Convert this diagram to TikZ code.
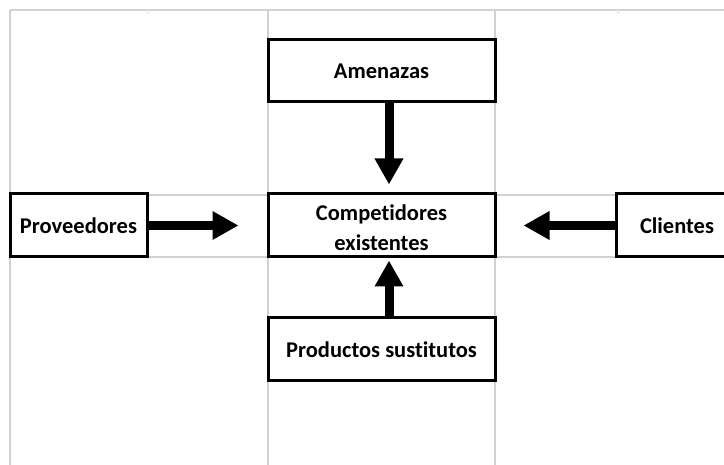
\documentclass[tikz,border=0pt]{standalone}
\usepackage{fontspec}
\setmainfont{Carlito}[RawFeature=-liga]
\usetikzlibrary{arrows.meta,calc}
\begin{document}
\begin{tikzpicture}[x=1pt,y=-1pt,
  box/.style={draw=black, line width=3pt, fill=white, inner sep=0pt,
    font=\fontsize{22.5}{30}\selectfont\bfseries, align=center},
  gridline/.style={draw=black!18, line width=1.3pt},
  bigarrow/.style={line width=9pt, -{Triangle[width=27pt,length=26pt]}}]
\useasboundingbox (0,0) rectangle (724,465);
\clip (0,0) rectangle (724,465);
\fill[white] (0,0) rectangle (724,465);
% spreadsheet grid lines
\draw[gridline] (10,10) -- (724,10);
\draw[gridline] (10,10) -- (10,465);
\draw[gridline] (268,10) -- (268,465);
\draw[gridline] (495,10) -- (495,465);
\draw[gridline] (10,195) -- (724,195);
\draw[gridline] (10,257) -- (724,257);
\draw[gridline, draw=black!8] (148,10) -- (148,14);
\draw[gridline, draw=black!8] (618,10) -- (618,14);
% boxes
\node[box, minimum width=227pt, minimum height=62pt] (amen) at (381.5,71) {Amenazas};
\node[box, minimum width=227pt, minimum height=63pt] (comp) at (381.5,225.5)
  {\raisebox{-4pt}[\height][\depth]{\begin{tabular}{@{}c@{}}Competidores\\existentes\end{tabular}}};
\node[box, minimum width=137pt, minimum height=63pt] (prov) at (78.5,225.5) {Proveedores};
\node[box, minimum width=122pt, minimum height=63pt] (cli) at (677,225.5) {Clientes};
\node[box, minimum width=227pt, minimum height=63pt] (prod) at (381.5,349.5) {Productos sustitutos};
% arrows
\draw[bigarrow] ($(amen.south)+(7.5,0)$) -- ($(comp.north)+(7.5,-8)$);
\draw[bigarrow] ($(prod.north)+(7.5,0)$) -- ($(comp.south)+(7.5,2)$);
\draw[bigarrow] (prov.east) -- ($(comp.west)+(-28,0)$);
\draw[bigarrow] (cli.west) -- ($(comp.east)+(27,0)$);
\end{tikzpicture}
\end{document}
